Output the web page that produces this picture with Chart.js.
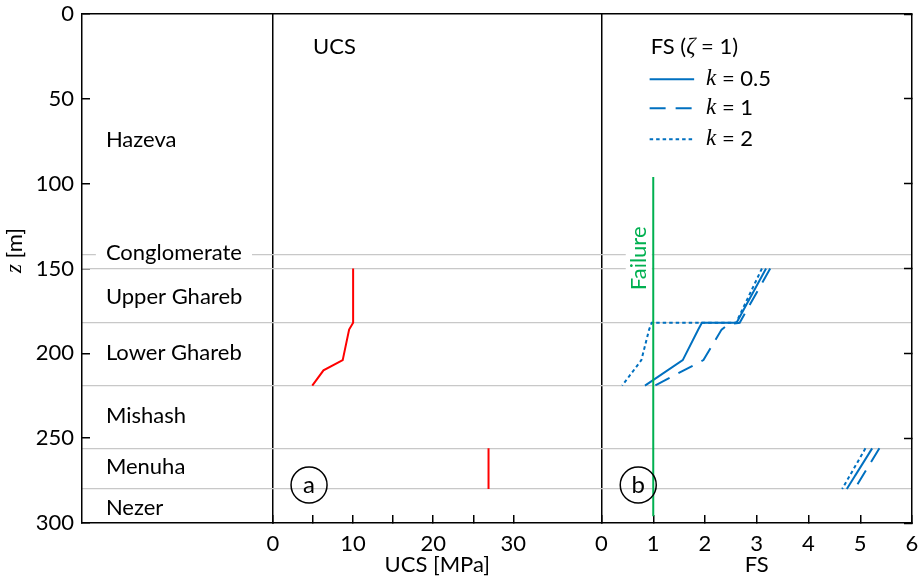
<!DOCTYPE html>
<html>
<head>
<meta charset="utf-8">
<script src="https://cdn.jsdelivr.net/npm/chart.js@4.4.1/dist/chart.umd.min.js"></script>
<style>
  html, body { margin: 0; padding: 0; background: #fff; }
  #wrap { width: 919px; height: 578px; position: relative; }
</style>
</head>
<body>
<div id="wrap"><canvas id="chart"></canvas></div>
<script>
// depth axis and formation layout
const zTicks = [0, 50, 100, 150, 200, 250, 300];
const boundaries = [142, 150, 182, 219, 256, 280];
const formations = ['Hazeva', 'Conglomerate', 'Upper Ghareb', 'Lower Ghareb', 'Mishash', 'Menuha', 'Nezer'];
const formationZ = [74, 141, 167, 200, 237, 267, 291];

// UCS profile [MPa]
const ucsTicks = [0, 5, 10, 15, 20, 25, 30];
const ucsUpperZ = [150, 182, 186, 204, 210, 219];
const ucsUpper = [10, 10, 9.5, 8.7, 6.3, 4.9];
const ucsLowerZ = [256, 280];
const ucsLower = [26.9, 26.9];

// FS, zeta = 1, for three k values
const fsTicks = [0, 1, 2, 3, 4, 5, 6];
const fsUpperZ05 = [150, 182, 182, 186, 204, 219];
const fsUpper05 = [3.18, 2.61, 1.94, 1.87, 1.57, 0.84];
const fsUpperZ1 = [150, 182, 183, 186, 204, 219];
const fsUpper1 = [3.26, 2.67, 2.45, 2.32, 1.97, 1.03];
const fsUpperZ2 = [150, 182, 182, 186, 204, 219];
const fsUpper2 = [3.10, 2.60, 0.97, 0.92, 0.77, 0.40];
const fsLowerZ = [256, 280];
const fsLower05 = [5.23, 4.74];
const fsLower1 = [5.37, 4.89];
const fsLower2 = [5.10, 4.65];
const failureZ = [96, 296];
const failureFS = [1, 1];

const kLabels = ['0.5', '1', '2'];

const FONT = 'Lato';
const SIZE = 22;
const SERIF_IT = 'italic 23px "Liberation Serif"';
const blue = '#0070c0';
const red = '#ff0000';
const green = '#00b050';
const kDash = [[], [16, 10], [3.5, 3]];

const pts = (xs, zs) => xs.map((v, i) => ({ x: v, y: zs[i] }));

Chart.defaults.font.family = FONT;
Chart.defaults.font.size = SIZE;
Chart.defaults.color = '#000';

function line(xAxisID, data, color, dash) {
    return {
        xAxisID, yAxisID: 'y', data,
        borderColor: color, backgroundColor: color,
        borderWidth: 2, borderDash: dash || [],
        showLine: true, pointRadius: 0, fill: false, tension: 0
    };
}

const fsUpper = [pts(fsUpper05, fsUpperZ05), pts(fsUpper1, fsUpperZ1), pts(fsUpper2, fsUpperZ2)];
const fsLower = [pts(fsLower05, fsLowerZ), pts(fsLower1, fsLowerZ), pts(fsLower2, fsLowerZ)];

const datasets = [
    line('xU', pts(ucsUpper, ucsUpperZ), red),
    line('xU', pts(ucsLower, ucsLowerZ), red),
    line('xF', pts(failureFS, failureZ), green)
];
// draw dotted first so solid sits on top
[2, 1, 0].forEach(k => {
    datasets.push(line('xF', fsUpper[k], blue, kDash[k]));
    datasets.push(line('xF', fsLower[k], blue, kDash[k]));
});

const tickOnly = v => ({ value: v });
const noPad = s => { s.paddingTop = 0; s.paddingBottom = 0; s.paddingLeft = 0; s.paddingRight = 0; };

function drawParts(ctx, parts, x, y) {
    let cx = x;
    parts.forEach(([text, font]) => {
        ctx.font = font;
        ctx.fillText(text, cx, y);
        cx += ctx.measureText(text).width;
    });
    return cx - x;
}

const overlay = {
    id: 'overlay',
    afterDatasetsDraw(chart) {
        const { ctx, scales: { xL, xU, xF, y } } = chart;
        const plain = SIZE + 'px ' + FONT;
        ctx.save();
        ctx.textBaseline = 'middle';
        ctx.textAlign = 'left';
        ctx.fillStyle = '#000';

        // formation names
        formations.forEach((name, i) => {
            const px = xL.getPixelForValue(0.125);
            const py = y.getPixelForValue(formationZ[i]);
            ctx.font = plain;
            if (name === 'Conglomerate') {
                const w = ctx.measureText(name).width;
                ctx.fillStyle = '#fff';
                ctx.fillRect(px - 10, py - 11, w + 20, 22);
            }
            ctx.fillStyle = '#000';
            ctx.fillText(name, px, py);
        });

        // panel headings
        ctx.font = plain;
        ctx.fillText('UCS', xU.getPixelForValue(5), y.getPixelForValue(19.5));
        drawParts(ctx, [['FS (', plain], ['\u03B6', SERIF_IT], [' = 1)', plain]],
            xF.getPixelForValue(0.95), y.getPixelForValue(19.5));

        // legend
        kLabels.forEach((k, i) => {
            const ly = y.getPixelForValue([38.4, 55.5, 73.8][i]);
            ctx.beginPath();
            ctx.strokeStyle = blue;
            ctx.lineWidth = 2;
            ctx.setLineDash(kDash[i]);
            ctx.moveTo(xF.getPixelForValue(0.93), ly);
            ctx.lineTo(xF.getPixelForValue(1.79), ly);
            ctx.stroke();
            ctx.setLineDash([]);
            ctx.fillStyle = '#000';
            drawParts(ctx, [['k', SERIF_IT], [' = ' + k, plain]], xF.getPixelForValue(2.02), ly);
        });

        // failure label
        ctx.save();
        ctx.translate(xF.getPixelForValue(0.72), y.getPixelForValue(144));
        ctx.rotate(-Math.PI / 2);
        ctx.font = plain;
        const fw = ctx.measureText('Failure').width;
        ctx.fillStyle = '#fff';
        ctx.fillRect(-fw / 2 - 4, -13, fw + 8, 26);
        ctx.fillStyle = green;
        ctx.textAlign = 'center';
        ctx.fillText('Failure', 0, 0);
        ctx.restore();

        // circled panel letters
        [[xU, 4.5, 'a'], [xF, 0.71, 'b']].forEach(([sc, v, t]) => {
            const cx = sc.getPixelForValue(v), cy = y.getPixelForValue(277.6);
            ctx.beginPath();
            ctx.arc(cx, cy, 18, 0, Math.PI * 2);
            ctx.strokeStyle = '#000';
            ctx.lineWidth = 1.5;
            ctx.stroke();
            ctx.fillStyle = '#000';
            ctx.textAlign = 'center';
            ctx.font = '24px ' + FONT;
            ctx.fillText(t, cx, cy);
        });

        // depth axis title
        ctx.save();
        ctx.translate(15, 273);
        ctx.rotate(-Math.PI / 2);
        ctx.textAlign = 'left';
        ctx.fillStyle = '#000';
        drawParts(ctx, [['z', SERIF_IT], [' [m]', plain]], 0, 0);
        ctx.restore();

        ctx.restore();
    }
};

const xBase = {
    type: 'linear', position: 'bottom', stack: 'panels', offset: false,
    border: { color: '#000', width: 1.5 },
    ticks: { padding: 16, maxRotation: 0, autoSkip: false },
    title: { display: true, font: { size: SIZE }, padding: { top: 0, bottom: 0 } },
    afterFit(s) { s.height = 55; noPad(s); }
};

new Chart(document.getElementById('chart'), {
    type: 'scatter',
    data: { datasets },
    plugins: [overlay],
    options: {
        responsive: true,
        maintainAspectRatio: false,
        animation: false,
        layout: { padding: { top: 14, right: 7, left: 0, bottom: 0 } },
        plugins: { legend: { display: false }, tooltip: { enabled: false } },
        scales: {
            xL: {
                ...xBase, min: 0, max: 1, stackWeight: 191,
                ticks: { display: false },
                grid: { display: false },
                title: { display: false }
            },
            xU: {
                ...xBase, min: 0, max: 41, stackWeight: 328.5,
                afterBuildTicks(s) { s.ticks = ucsTicks.map(tickOnly); },
                ticks: { ...xBase.ticks, callback: v => (v % 10 === 0 ? v : '') },
                grid: {
                    color: c => (c.tick && c.tick.value === 0 ? '#000' : 'transparent'),
                    lineWidth: 1.5, tickLength: -8, tickColor: '#000', tickWidth: 1.5
                },
                title: { ...xBase.title, text: 'UCS [MPa]' }
            },
            xF: {
                ...xBase, min: 0, max: 6, stackWeight: 310.5,
                afterBuildTicks(s) { s.ticks = fsTicks.map(tickOnly); },
                grid: {
                    color: c => (c.tick && c.tick.value === 0 ? '#000' : 'transparent'),
                    lineWidth: 1.5, tickLength: -8, tickColor: '#000', tickWidth: 1.5
                },
                title: { ...xBase.title, text: 'FS' }
            },
            y: {
                type: 'linear', position: 'left', reverse: true, min: 0, max: 300,
                afterBuildTicks(s) { s.ticks = zTicks.map(tickOnly); },
                border: { color: '#000', width: 1.5 },
                ticks: { padding: 16 },
                grid: {
                    color: c => (c.tick && c.tick.value === 0 ? '#000' : 'transparent'),
                    lineWidth: 1.5, tickLength: -8, tickColor: '#000', tickWidth: 1.5
                },
                afterFit(s) { s.width = 82; noPad(s); }
            },
            yB: {
                type: 'linear', position: 'left', reverse: true, min: 0, max: 300,
                afterBuildTicks(s) { s.ticks = boundaries.map(tickOnly); },
                ticks: { display: false },
                border: { display: false },
                grid: { color: '#c8c8c8', lineWidth: 1.2, drawTicks: false },
                afterFit(s) { s.width = 0; noPad(s); }
            },
            yR: {
                type: 'linear', position: 'right', reverse: true, min: 0, max: 300,
                afterBuildTicks(s) { s.ticks = zTicks.map(tickOnly); },
                ticks: { display: false },
                border: { color: '#000', width: 1.5 },
                grid: { drawOnChartArea: false, tickLength: -8, tickColor: '#000', tickWidth: 1.5 },
                afterFit(s) { s.width = 0; noPad(s); }
            }
        }
    }
});
</script>
</body>
</html>
